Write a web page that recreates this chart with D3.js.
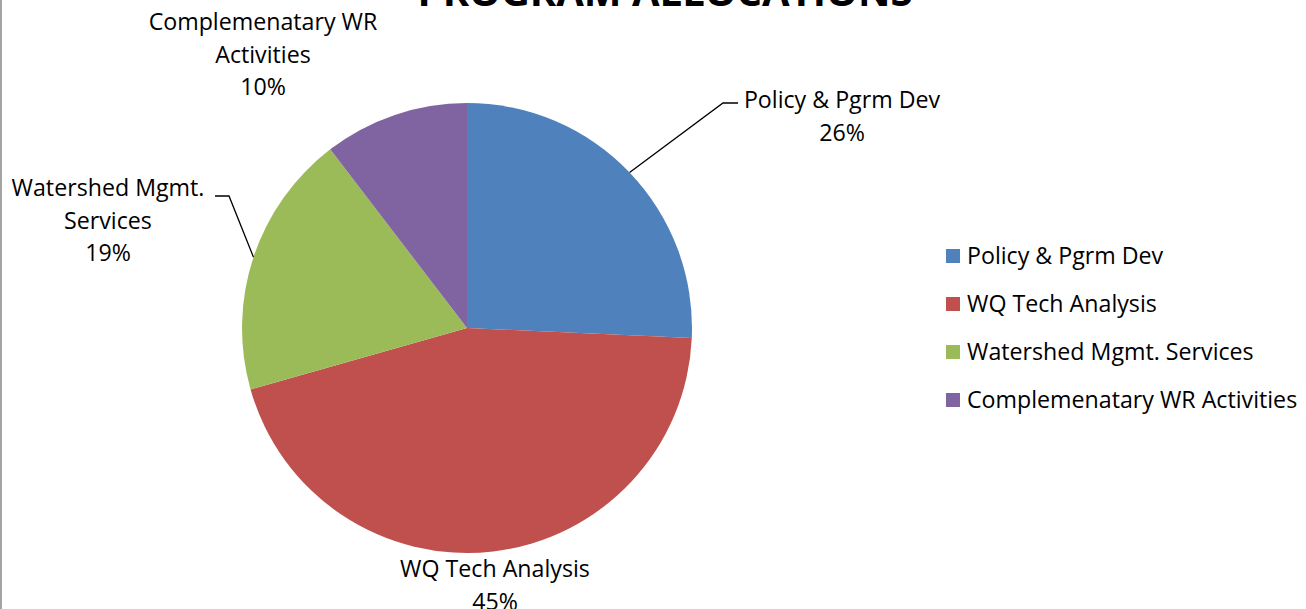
<!DOCTYPE html>
<html>
<head>
<meta charset="utf-8">
<script src="https://cdn.jsdelivr.net/npm/d3@7"></script>
<style>
  body { margin: 0; background: #fff; }
  text { font-family: "Open Sans", sans-serif; fill: #000; }
</style>
</head>
<body>
<div id="chart"></div>
<script>
const categories = ["Policy & Pgrm Dev", "WQ Tech Analysis", "Watershed Mgmt. Services", "Complemenatary WR Activities"];
const values = [25.7, 44.9, 19.0, 10.4];
const colors = ["#4F81BD", "#C0504D", "#9BBB59", "#8064A2"];
const labelNames = [
    ["Policy & Pgrm Dev"],
    ["WQ Tech Analysis"],
    ["Watershed Mgmt.", "Services"],
    ["Complemenatary WR", "Activities"]
];

const width = 1306, height = 609;
const cx = 467, cy = 328, radius = 225;
const fontSize = 23.2;

const svg = d3.select("#chart").append("svg")
    .attr("width", width)
    .attr("height", height);

// chart border (only the left edge shows)
svg.append("line")
    .attr("x1", 1).attr("x2", 1).attr("y1", 0).attr("y2", height)
    .attr("stroke", "#868686").attr("stroke-width", 1.5);

svg.append("text")
    .attr("x", 665).attr("y", 6)
    .attr("text-anchor", "middle")
    .style("font-size", "40px").style("font-weight", "bold")
    .text("PROGRAM ALLOCATIONS");

const pie = d3.pie().sort(null).value(d => d);
const arcs = pie(values);
const arc = d3.arc().innerRadius(0).outerRadius(radius);
const total = d3.sum(values);
const pct = d3.format(".0%");

const g = svg.append("g").attr("transform", `translate(${cx},${cy})`);
g.selectAll("path")
    .data(arcs)
    .enter()
    .append("path")
    .attr("d", arc)
    .attr("fill", (d, i) => colors[i]);

// data labels: centre of first line, in chart pixels
const labelPos = [
    { x: 842, y: 100 },
    { x: 495, y: 569 },
    { x: 108, y: 188 },
    { x: 263, y: 22 }
];
const lineGap = 32.5;

labelNames.forEach((names, i) => {
    const lines = names.concat([pct(values[i] / total)]);
    const t = svg.append("text")
        .attr("text-anchor", "middle")
        .style("font-size", fontSize + "px");
    lines.forEach((s, k) => {
        t.append("tspan")
            .attr("x", labelPos[i].x)
            .attr("y", labelPos[i].y + k * lineGap)
            .attr("dy", "0.35em")
            .text(s);
    });
});

// leader lines
function edgePoint(a) {
    const ang = (a.startAngle + a.endAngle) / 2;
    return [cx + radius * Math.sin(ang), cy - radius * Math.cos(ang)];
}
const p0 = edgePoint(arcs[0]);
svg.append("polyline")
    .attr("points", [p0, [723, 103], [738, 103]].map(p => p.join(",")).join(" "))
    .attr("fill", "none").attr("stroke", "#000").attr("stroke-width", 1.3);
const p2 = edgePoint(arcs[2]);
svg.append("polyline")
    .attr("points", [[215, 196], [229, 196], p2].map(p => p.join(",")).join(" "))
    .attr("fill", "none").attr("stroke", "#000").attr("stroke-width", 1.3);

// legend
const legend = svg.append("g").attr("transform", "translate(946,256)");
const item = legend.selectAll("g")
    .data(categories)
    .enter()
    .append("g")
    .attr("transform", (d, i) => `translate(0,${i * 48})`);
item.append("rect")
    .attr("x", 0).attr("y", -7)
    .attr("width", 14).attr("height", 14)
    .attr("fill", (d, i) => colors[i]);
item.append("text")
    .attr("x", 21).attr("dy", "0.35em")
    .style("font-size", fontSize + "px")
    .text(d => d);
</script>
</body>
</html>
